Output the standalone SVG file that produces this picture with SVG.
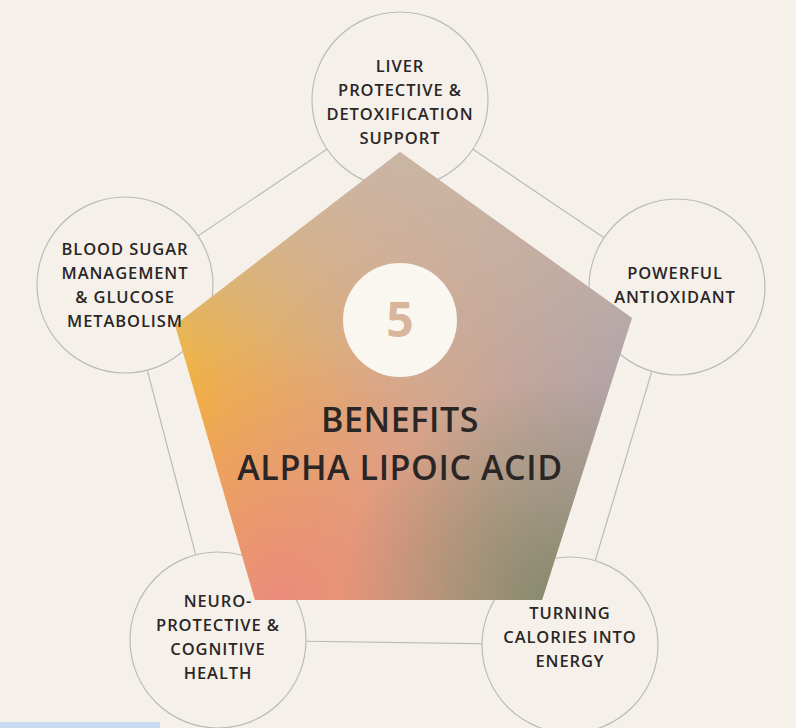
<svg xmlns="http://www.w3.org/2000/svg" width="796" height="728" viewBox="0 0 796 728">
<defs>
<style>
.c{fill:#f5f1ea;stroke:#b7bdb6;stroke-width:1.2}
.l{font-family:"Open Sans","Liberation Sans",sans-serif;font-size:16.5px;font-weight:600;fill:#2b2626;text-anchor:middle;letter-spacing:0.9px}
.t{font-family:"Open Sans","Liberation Sans",sans-serif;font-size:34px;font-weight:600;fill:#2b2626;text-anchor:middle;letter-spacing:0.6px}
</style>
<linearGradient id="g1" gradientUnits="userSpaceOnUse" x1="175" y1="330" x2="632" y2="300">
<stop offset="0" stop-color="#f4b437"/><stop offset="0.45" stop-color="#d9a888"/><stop offset="1" stop-color="#aea2ab"/>
</linearGradient>
<linearGradient id="g2" gradientUnits="userSpaceOnUse" x1="0" y1="152" x2="0" y2="400">
<stop offset="0" stop-color="#c9b6a5" stop-opacity="0.95"/><stop offset="1" stop-color="#c9b6a5" stop-opacity="0"/>
</linearGradient>
<radialGradient id="g3" gradientUnits="userSpaceOnUse" cx="280" cy="600" r="260">
<stop offset="0" stop-color="#ea8c7b"/><stop offset="1" stop-color="#ea8c7b" stop-opacity="0"/>
</radialGradient>
<radialGradient id="g4" gradientUnits="userSpaceOnUse" cx="560" cy="600" r="220">
<stop offset="0" stop-color="#86896b"/><stop offset="1" stop-color="#86896b" stop-opacity="0"/>
</radialGradient>
</defs>
<rect width="796" height="728" fill="#f5f1ea"/>
<rect x="0" y="722" width="160" height="6" fill="#c9dcf2"/>
<g id="connectors" stroke="#b7bdb6" stroke-width="1.2" fill="none">
<polygon points="400,100 677,287 570,645 218,640 125,285"/>
</g>
<g id="circles">
<circle id="c1" class="c" cx="400" cy="100" r="88"/>
<circle id="c2" class="c" cx="677" cy="287" r="88"/>
<circle id="c3" class="c" cx="570" cy="645" r="88"/>
<circle id="c4" class="c" cx="218" cy="640" r="88"/>
<circle id="c5" class="c" cx="125" cy="285" r="88"/>
</g>
<g id="center">
<polygon points="400,152 632,318 542,600 255,600 175,325" fill="url(#g1)"/>
<polygon points="400,152 632,318 542,600 255,600 175,325" fill="url(#g2)"/>
<polygon points="400,152 632,318 542,600 255,600 175,325" fill="url(#g3)"/>
<polygon points="400,152 632,318 542,600 255,600 175,325" fill="url(#g4)"/>
<circle cx="400" cy="320" r="57" fill="#faf6f0"/>
<text x="400" y="337" font-family="'Open Sans','Liberation Sans',sans-serif" font-size="48" font-weight="bold" fill="#d8b69b" text-anchor="middle">5</text>
<text class="t" x="400" y="432">BENEFITS</text>
<text class="t" x="400" y="480">ALPHA LIPOIC ACID</text>
</g>
<g id="n1"><text class="l" x="400" y="72">LIVER</text><text class="l" x="400" y="96">PROTECTIVE &amp;</text><text class="l" x="400" y="120">DETOXIFICATION</text><text class="l" x="400" y="144">SUPPORT</text></g>
<g id="n2"><text class="l" x="675" y="279">POWERFUL</text><text class="l" x="675" y="303">ANTIOXIDANT</text></g>
<g id="n3"><text class="l" x="570" y="619">TURNING</text><text class="l" x="570" y="643">CALORIES INTO</text><text class="l" x="570" y="667">ENERGY</text></g>
<g id="n4"><text class="l" x="218" y="607">NEURO-</text><text class="l" x="218" y="631">PROTECTIVE &amp;</text><text class="l" x="218" y="655">COGNITIVE</text><text class="l" x="218" y="679">HEALTH</text></g>
<g id="n5"><text class="l" x="125" y="255">BLOOD SUGAR</text><text class="l" x="125" y="279">MANAGEMENT</text><text class="l" x="125" y="303">&amp; GLUCOSE</text><text class="l" x="125" y="327">METABOLISM</text></g>
</svg>
